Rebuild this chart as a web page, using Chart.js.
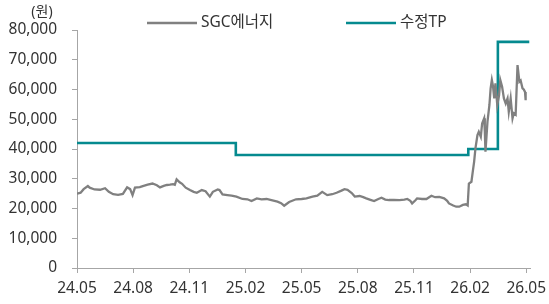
<!DOCTYPE html>
<html><head><meta charset="utf-8">
<script src="https://cdn.jsdelivr.net/npm/chart.js@4/dist/chart.umd.min.js"></script>
<style>html,body{margin:0;padding:0;background:#fff}#wrap{width:549px;height:304px}</style>
</head><body><div id="wrap"><canvas id="c" width="549" height="304"></canvas></div>
<script>
// ---- data ----
const priceDates = ['2024-05-01','2024-05-03','2024-05-07','2024-05-12','2024-05-19','2024-05-22','2024-05-30','2024-06-08','2024-06-16','2024-06-22','2024-06-29','2024-07-07','2024-07-15','2024-07-22','2024-07-27','2024-07-31','2024-08-04','2024-08-12','2024-08-17','2024-08-25','2024-09-02','2024-09-09','2024-09-14','2024-09-20','2024-09-25','2024-09-30','2024-10-05','2024-10-08','2024-10-11','2024-10-16','2024-10-20','2024-10-26','2024-11-02','2024-11-08','2024-11-13','2024-11-21','2024-11-27','2024-12-04','2024-12-09','2024-12-17','2024-12-20','2024-12-25','2025-01-02','2025-01-09','2025-01-17','2025-01-27','2025-02-04','2025-02-10','2025-02-18','2025-02-25','2025-03-05','2025-03-13','2025-03-23','2025-03-29','2025-04-03','2025-04-11','2025-04-22','2025-05-01','2025-05-09','2025-05-19','2025-05-27','2025-06-04','2025-06-12','2025-06-20','2025-06-27','2025-07-05','2025-07-10','2025-07-15','2025-07-22','2025-07-27','2025-08-04','2025-08-10','2025-08-15','2025-08-22','2025-08-28','2025-09-04','2025-09-09','2025-09-15','2025-09-21','2025-09-29','2025-10-08','2025-10-16','2025-10-21','2025-10-26','2025-10-29','2025-11-03','2025-11-06','2025-11-14','2025-11-21','2025-11-29','2025-12-05','2025-12-12','2025-12-20','2025-12-25','2025-12-28','2026-01-04','2026-01-09','2026-01-14','2026-01-20','2026-01-25','2026-01-28','2026-01-30','2026-02-03','2026-02-05','2026-02-07','2026-02-09','2026-02-12','2026-02-14','2026-02-17','2026-02-19','2026-02-22','2026-02-23','2026-02-24','2026-02-27','2026-03-02','2026-03-04','2026-03-06','2026-03-08','2026-03-10','2026-03-12','2026-03-15','2026-03-18','2026-03-20','2026-03-23','2026-03-26','2026-03-29','2026-04-01','2026-04-03','2026-04-06','2026-04-09','2026-04-11','2026-04-14','2026-04-17','2026-04-20','2026-04-22','2026-04-25','2026-04-27','2026-04-29','2026-04-30'];
const priceValues = [25000,25100,25300,26500,27550,27000,26400,26300,26800,25600,24800,24600,24900,27100,26500,24500,27000,27200,27550,28000,28400,27800,27100,27600,27900,28000,28200,28000,29800,28800,28300,27000,26200,25600,25300,26200,25800,24000,25600,26400,26200,24760,24500,24300,24000,23200,23100,22500,23400,23100,23200,22800,22300,21800,20950,22200,23100,23200,23400,24000,24300,25600,24500,24800,25300,26000,26500,26300,25200,24000,24200,23800,23400,22900,22500,23200,23600,23000,22850,22900,22800,23000,23200,22600,21700,22700,23400,23200,23200,24300,23800,23900,23400,22600,21700,21000,20600,20600,21200,21400,21000,28400,29000,32400,35700,40200,44700,45800,44100,48600,50300,46000,39100,49200,54800,60400,63200,61000,57000,62100,54800,58100,63200,60900,57000,55300,57000,52500,57000,50300,52000,51500,68200,62600,63000,60400,60000,59200,56400];
const tpDates = ['2024-05-01','2025-01-16','2026-01-29','2026-03-16','2026-05-06'];
const tpValues = [42000,38000,40000,76000,76000];
const seriesNames = ['SGC에너지','수정TP'];
const xTickLabels = ['24.05','24.08','24.11','25.02','25.05','25.08','25.11','26.02','26.05'];
const yUnit = '(원)';

// ---- helpers ----
function monthIndex(s){
  const [y,m,d]=s.split('-').map(Number);
  const dim=new Date(y,m,0).getDate();
  return (y-2024)*12+(m-5)+(d-1)/dim;
}
const toPts=(ds,vs)=>ds.map((d,i)=>({x:monthIndex(d),y:vs[i]}));
const FONT="'Noto Sans','Noto Sans CJK KR',sans-serif";
const TXT='#333333';
const AX='#a6a6a6';

const legendPlugin={
  id:'customLegend',
  afterDraw(chart){
    const ctx=chart.ctx;
    const starts=[147,346];
    ctx.save();
    chart.data.datasets.forEach((ds,i)=>{
      const x=starts[i], y=23;
      ctx.strokeStyle=ds.borderColor; ctx.lineWidth=2.5;
      ctx.beginPath(); ctx.moveTo(x,y); ctx.lineTo(x+50,y); ctx.stroke();
      ctx.fillStyle=TXT; ctx.font='15.5px '+FONT; ctx.textBaseline='middle'; ctx.textAlign='left';
      ctx.fillText(ds.label,x+54,y);
    });
    ctx.font='14px '+FONT; ctx.textAlign='center'; ctx.textBaseline='middle';
    ctx.fillText(yUnit,42,12);
    ctx.restore();
  }
};

new Chart(document.getElementById('c'),{
  type:'line',
  data:{datasets:[
    {label:seriesNames[0],data:toPts(priceDates,priceValues),borderColor:'#808080',borderWidth:2.3,pointRadius:0,tension:0},
    {label:seriesNames[1],data:toPts(tpDates,tpValues),borderColor:'#058a8f',borderWidth:2.6,pointRadius:0,stepped:true}
  ]},
  options:{
    responsive:false,animation:false,
    layout:{padding:{top:30,right:19,left:0,bottom:0}},
    plugins:{legend:{display:false},tooltip:{enabled:false}},
    scales:{
      x:{type:'linear',min:0,max:24.2,
        afterBuildTicks(s){s.ticks=xTickLabels.map((_,i)=>({value:i*3}));},
        afterFit(s){s.height=36;},
        ticks:{callback:(v)=>xTickLabels[Math.round(v/3)],color:TXT,font:{family:FONT,size:15.5,lineHeight:1.95},padding:0,maxRotation:0,autoSkip:false},
        grid:{display:true,drawOnChartArea:false,drawTicks:true,tickLength:5,color:AX},
        border:{display:true,color:AX,width:1}
      },
      y:{min:0,max:80000,
        afterFit(s){s.width=77;},
        ticks:{stepSize:10000,callback:(v)=>v.toLocaleString('en-US'),color:TXT,font:{family:FONT,size:15.5},padding:15},
        grid:{display:true,drawOnChartArea:false,drawTicks:true,tickLength:5,color:AX},
        border:{display:true,color:AX,width:1}
      }
    }
  },
  plugins:[legendPlugin]
});
</script></body></html>
